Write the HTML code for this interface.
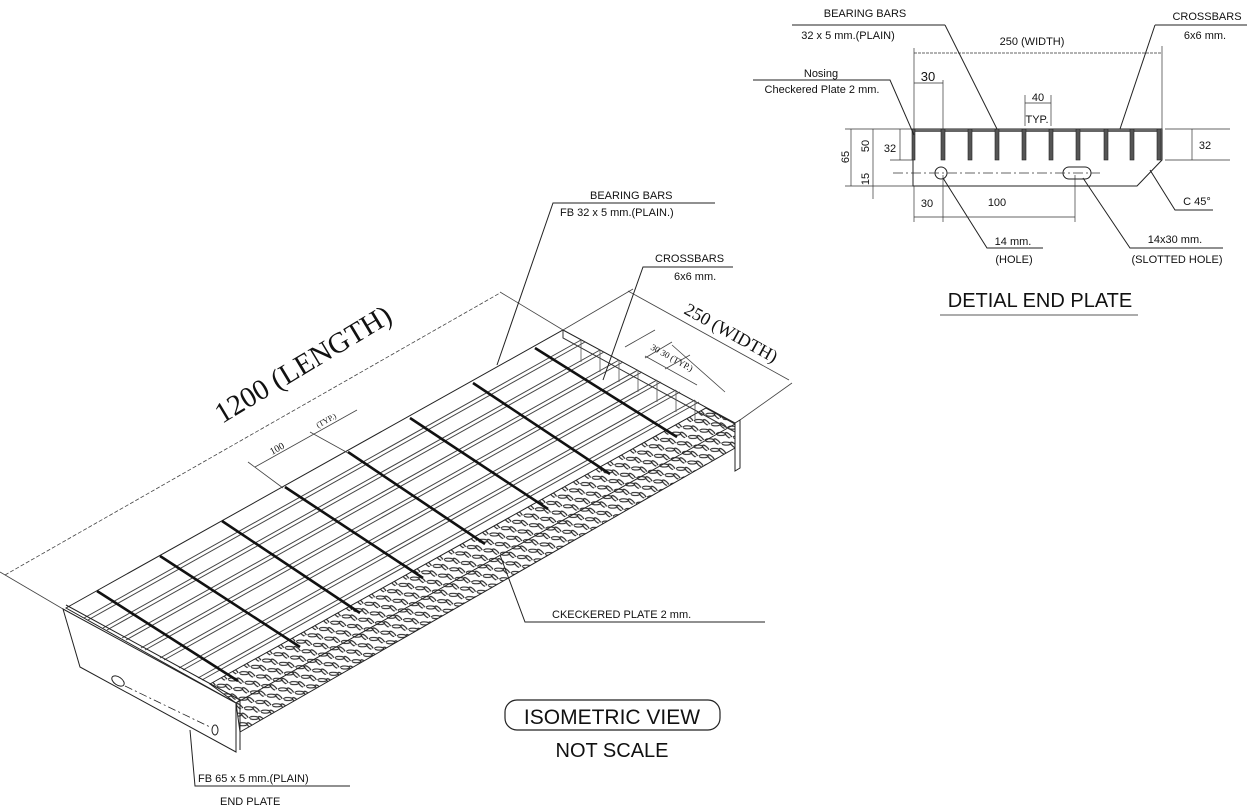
<!DOCTYPE html>
<html><head><meta charset="utf-8">
<style>
html,body{margin:0;padding:0;background:#fff;}
svg{display:block;}
text{font-family:"Liberation Sans",sans-serif;fill:#111;}
.s{font-family:"Liberation Serif",serif;}
</style></head><body>
<svg width="1256" height="812" viewBox="0 0 1256 812" xmlns="http://www.w3.org/2000/svg">
<defs>
<pattern id="chk" width="13" height="11" patternUnits="userSpaceOnUse" patternTransform="rotate(-29)">
<rect width="13" height="11" fill="#fff"/>
<ellipse cx="4" cy="3" rx="4.5" ry="1.5" fill="none" stroke="#222" stroke-width="1.1" transform="rotate(30 4 3)"/>
<ellipse cx="10" cy="8" rx="1.5" ry="4" fill="none" stroke="#222" stroke-width="1.1" transform="rotate(-20 10 8)"/>
</pattern>
</defs>
<g stroke="#222" fill="none" stroke-width="1">
<polygon points="66,608 563,330 735,423 236,703" fill="#fff" stroke="#222"/>
<g stroke="#444" stroke-width="1">
<line x1="84" y1="618" x2="581" y2="340"/><line x1="88" y1="620" x2="585" y2="342"/>
<line x1="103" y1="628" x2="600" y2="350"/><line x1="107" y1="630" x2="604" y2="352"/>
<line x1="122" y1="638" x2="619" y2="360"/><line x1="126" y1="640" x2="623" y2="362"/>
<line x1="141" y1="648" x2="638" y2="370"/><line x1="145" y1="650" x2="642" y2="372"/>
<line x1="160" y1="658" x2="657" y2="380"/><line x1="164" y1="660" x2="661" y2="382"/>
<line x1="179" y1="668" x2="676" y2="390"/><line x1="183" y1="670" x2="680" y2="392"/>
<line x1="198" y1="678" x2="695" y2="400"/><line x1="202" y1="680" x2="699" y2="402"/>
</g>
<polygon points="210,684 706,408 735,424 735,448 240,732 236,703" fill="url(#chk)" stroke="#222"/>
<line x1="236" y1="703" x2="735" y2="424" stroke="#222"/>
<g stroke="#111" stroke-width="2.6">
<line x1="97" y1="591" x2="238" y2="681"/>
<line x1="160" y1="556" x2="300" y2="647"/>
<line x1="222" y1="521" x2="360" y2="613"/>
<line x1="285" y1="487" x2="423" y2="578"/>
<line x1="348" y1="452" x2="485" y2="544"/>
<line x1="410" y1="418" x2="548" y2="509"/>
<line x1="473" y1="383" x2="610" y2="474"/>
<line x1="535" y1="348" x2="677" y2="437"/>
</g>
<polyline points="563,330 563,338 735,432" stroke="#333"/>
<g stroke="#555" stroke-width="0.8">
<line x1="581" y1="340" x2="581" y2="362"/><line x1="600" y1="350" x2="600" y2="372"/>
<line x1="619" y1="360" x2="619" y2="382"/><line x1="638" y1="370" x2="638" y2="392"/>
<line x1="657" y1="380" x2="657" y2="402"/><line x1="676" y1="390" x2="676" y2="412"/>
<line x1="695" y1="400" x2="695" y2="420"/>
</g>
<polygon points="735,423 740,420 740,468 735,471" fill="#fff"/>
<polygon points="63,609 236,703 236,752 80,667" fill="#fff" stroke="#222"/>
<line x1="66" y1="605" x2="240" y2="700"/>
<line x1="236" y1="703" x2="240" y2="700"/><line x1="240" y1="700" x2="240" y2="750"/>
<ellipse cx="118" cy="681" rx="7" ry="4" transform="rotate(35 118 681)"/>
<ellipse cx="215" cy="730" rx="3" ry="5"/>
<line x1="125" y1="686" x2="210" y2="727" stroke-dasharray="8,3,2,3" stroke-width="0.8"/>
<g stroke="#444" stroke-width="0.8">
<line x1="5" y1="575" x2="500" y2="293" stroke-dasharray="4,2"/>
<line x1="63" y1="609" x2="0" y2="572"/>
<line x1="563" y1="330" x2="500" y2="292"/>
<line x1="563" y1="330" x2="633" y2="289"/>
<line x1="740" y1="420" x2="792" y2="383"/>
<line x1="628" y1="291" x2="789" y2="380"/>
<line x1="255" y1="467" x2="357" y2="410"/>
<line x1="248" y1="462" x2="283" y2="488"/>
<line x1="310" y1="432" x2="348" y2="453"/>
<line x1="645" y1="356" x2="697" y2="385"/>
<line x1="625" y1="347" x2="655" y2="330"/>
<line x1="645" y1="358" x2="672" y2="342"/>
<line x1="665" y1="369" x2="690" y2="355"/>
<line x1="672" y1="345" x2="725" y2="392"/>
</g>
<polyline points="715,203 553,203 497,365"/>
<polyline points="733,267 643,267 603,380"/>
<polyline points="765,622 525,622 500,555"/>
<polyline points="350,786 195,786 190,730"/>
<rect x="505" y="700" width="215" height="30" rx="12" stroke-width="1.2"/>
</g>
<text class="s" font-size="29" transform="translate(222,424) rotate(-31)">1200  (LENGTH)</text>
<text class="s" font-size="18" transform="translate(683,313) rotate(29)">250 (WIDTH)</text>
<text class="s" font-size="10" transform="translate(272,455) rotate(-29)">100</text>
<text class="s" font-size="8" transform="translate(318,428) rotate(-29)">(TYP.)</text>
<text class="s" font-size="9" transform="translate(650,349) rotate(29)">30 30   (TYP.)</text>
<text x="590" y="199" font-size="11">BEARING BARS</text>
<text x="560" y="216" font-size="11">FB   32 x 5  mm.(PLAIN.)</text>
<text x="655" y="262" font-size="11">CROSSBARS</text>
<text x="674" y="280" font-size="11">6x6 mm.</text>
<text x="552" y="618" font-size="11">CKECKERED PLATE  2  mm.</text>
<text x="198" y="782" font-size="11">FB 65 x 5 mm.(PLAIN)</text>
<text x="220" y="805" font-size="11">END PLATE</text>
<text x="612" y="724" font-size="21" text-anchor="middle">ISOMETRIC VIEW</text>
<text x="612" y="757" font-size="20" text-anchor="middle">NOT SCALE</text>

<g stroke="#222" fill="none" stroke-width="1">
<polyline points="913,129 1162,129 1162,160 1137,186 913,186 913,129"/>
<rect x="913" y="129" width="249" height="3" fill="#666" stroke="none"/>
<g fill="#555" stroke="#222" stroke-width="0.6">
<rect x="912" y="129" width="3" height="31"/>
<rect x="941" y="129" width="4" height="31"/><rect x="968" y="129" width="4" height="31"/>
<rect x="995" y="129" width="4" height="31"/><rect x="1022" y="129" width="4" height="31"/>
<rect x="1049" y="129" width="4" height="31"/><rect x="1076" y="129" width="4" height="31"/>
<rect x="1104" y="129" width="4" height="31"/><rect x="1130" y="129" width="4" height="31"/>
<rect x="1157" y="129" width="4" height="31"/>
</g>
<circle cx="941" cy="173" r="6"/>
<rect x="1063" y="167" width="28" height="12" rx="6"/>
<g stroke-width="0.7" stroke="#333">
<line x1="893" y1="173" x2="1100" y2="173" stroke-dasharray="10,3,2,3"/>
<line x1="914" y1="48" x2="914" y2="129"/><line x1="1162" y1="46" x2="1162" y2="129"/>
<line x1="914" y1="53" x2="1162" y2="53" stroke-dasharray="3,1"/>
<line x1="943" y1="80" x2="943" y2="129"/><line x1="914" y1="83" x2="943" y2="83"/>
<line x1="1025" y1="95" x2="1025" y2="126"/><line x1="1051" y1="95" x2="1051" y2="126"/>
<line x1="1025" y1="103" x2="1051" y2="103"/>
<line x1="845" y1="129" x2="913" y2="129"/><line x1="845" y1="186" x2="913" y2="186"/>
<line x1="890" y1="160" x2="913" y2="160"/>
<line x1="851" y1="129" x2="851" y2="186"/><line x1="873" y1="129" x2="873" y2="199"/>
<line x1="900" y1="129" x2="900" y2="160"/>
<line x1="1165" y1="129" x2="1230" y2="129"/><line x1="1165" y1="160" x2="1230" y2="160"/>
<line x1="1192" y1="129" x2="1192" y2="160"/>
<line x1="914" y1="186" x2="914" y2="222"/><line x1="943" y1="175" x2="943" y2="222"/>
<line x1="1075" y1="175" x2="1075" y2="222"/><line x1="914" y1="217" x2="1075" y2="217"/>
</g>
<polyline points="945,25 792,25"/><line x1="945" y1="25" x2="997" y2="129"/>
<polyline points="1155,25 1247,25"/><line x1="1155" y1="25" x2="1120" y2="129"/>
<polyline points="753,80 890,80 914,135"/>
<polyline points="1043,248 987,248 943,178"/>
<polyline points="1223,248 1130,248 1083,178"/>
<polyline points="1213,210 1175,210 1150,170"/>
<line x1="940" y1="315" x2="1138" y2="315" stroke-width="0.8"/>
</g>
<g font-size="11">
<text x="865" y="17" text-anchor="middle">BEARING BARS</text>
<text x="848" y="39" text-anchor="middle">32 x 5  mm.(PLAIN)</text>
<text x="1207" y="20" text-anchor="middle">CROSSBARS</text>
<text x="1205" y="39" text-anchor="middle">6x6 mm.</text>
<text x="1032" y="45" text-anchor="middle">250 (WIDTH)</text>
<text x="821" y="77" text-anchor="middle">Nosing</text>
<text x="822" y="93" text-anchor="middle">Checkered Plate  2 mm.</text>
<text x="928" y="81" text-anchor="middle" font-size="13" fill="#555">30</text>
<text x="1038" y="101" text-anchor="middle">40</text>
<text x="1037" y="123" text-anchor="middle">TYP.</text>
<text x="890" y="152" text-anchor="middle">32</text>
<text x="1205" y="149" text-anchor="middle">32</text>
<text transform="translate(849,157) rotate(-90)" text-anchor="middle">65</text>
<text transform="translate(869,146) rotate(-90)" text-anchor="middle">50</text>
<text transform="translate(869,179) rotate(-90)" text-anchor="middle">15</text>
<text x="927" y="207" text-anchor="middle">30</text>
<text x="997" y="206" text-anchor="middle">100</text>
<text x="1013" y="245" text-anchor="middle">14 mm.</text>
<text x="1014" y="263" text-anchor="middle">(HOLE)</text>
<text x="1175" y="243" text-anchor="middle">14x30 mm.</text>
<text x="1177" y="263" text-anchor="middle">(SLOTTED HOLE)</text>
<text x="1197" y="205" text-anchor="middle">C 45°</text>
</g>
<text x="1040" y="307" font-size="20" text-anchor="middle">DETIAL END PLATE</text>
</svg>
</body></html>
